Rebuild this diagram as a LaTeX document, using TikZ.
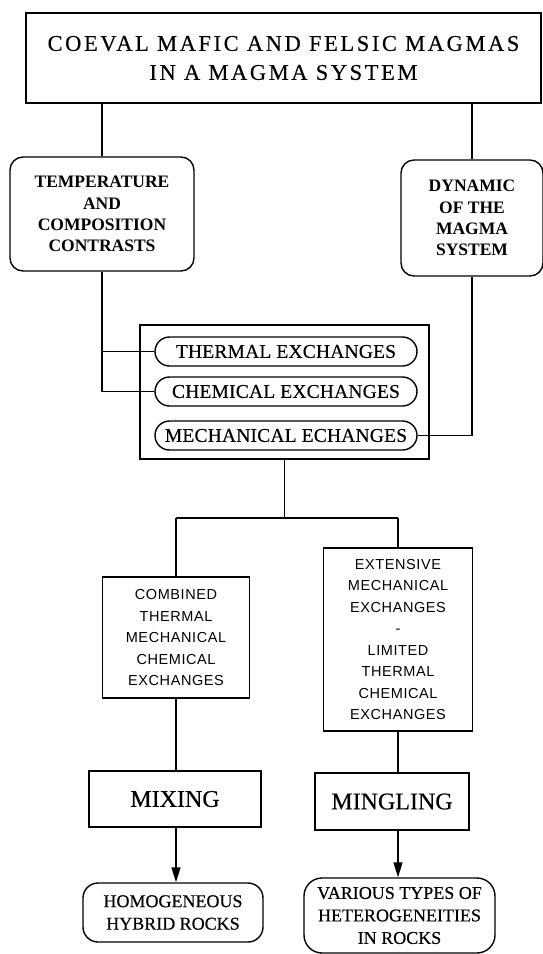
\documentclass[tikz,border=0pt]{standalone}
\usepackage{fontspec}
\setmainfont{Liberation Serif}
\newfontfamily\titlefont[LetterSpace=11.5,FakeBold=0.3]{Liberation Serif}
\newfontfamily\pillfont[LetterSpace=1,FakeBold=0.3]{Liberation Serif}
\newfontfamily\endfont[FakeBold=0.4]{Liberation Serif}
\newfontfamily\letterfont[LetterSpace=4]{Liberation Sans}
\usetikzlibrary{arrows.meta,calc}
\begin{document}
\begin{tikzpicture}[x=1pt,y=-1pt,line width=1.4pt,
  box/.style={draw, rectangle, inner sep=0pt, align=center},
  rbox/.style={box, rounded corners=#1},
  arr/.style={-{Triangle[length=15pt,width=9pt]}},
  boldtxt/.style={font=\fontsize{17.5}{21.2}\selectfont\bfseries},
  pilltxt/.style={font=\fontsize{19.5}{22}\selectfont\pillfont},
  bigtxt/.style={font=\fontsize{24}{28}\selectfont\endfont},
  endtxt/.style={font=\fontsize{18}{22.5}\selectfont\endfont},
  lettxt/.style={font=\fontsize{14.5}{21.5}\selectfont\letterfont}]
\fill[white] (0,0) rectangle (543,954);
\useasboundingbox (0,0) rectangle (543,954);

\node[box, minimum width=515pt, minimum height=90pt,
      font=\fontsize{22.5}{29}\selectfont\titlefont] (title) at (283.5,58)
  {COEVAL MAFIC AND FELSIC MAGMAS\\IN A MAGMA SYSTEM};

\node[rbox=13pt, boldtxt, minimum width=184pt, minimum height=114pt] (temp) at (102,214)
  {TEMPERATURE\\AND\\COMPOSITION\\CONTRASTS};
\node[rbox=13pt, boldtxt, minimum width=142pt, minimum height=116pt] (dyn) at (472,218)
  {DYNAMIC\\OF THE\\MAGMA\\SYSTEM};

\node[box, minimum width=289pt, minimum height=134pt] (outer) at (284.5,392) {};
\node[rbox=14.5pt, pilltxt, minimum width=262pt, minimum height=29pt] (therm) at (286,351.5)
  {THERMAL EXCHANGES};
\node[rbox=14.5pt, pilltxt, minimum width=262pt, minimum height=29pt] (chem) at (286,391.5)
  {CHEMICAL EXCHANGES};
\node[rbox=14.5pt, pilltxt, minimum width=262pt, minimum height=29pt] (mech) at (286,435.5)
  {MECHANICAL ECHANGES};

\node[box, lettxt, minimum width=147pt, minimum height=121pt] (comb) at (176,637.5)
  {COMBINED\\THERMAL\\MECHANICAL\\CHEMICAL\\EXCHANGES};
\node[box, lettxt, minimum width=149pt, minimum height=183pt] (ext) at (398,639.5)
  {EXTENSIVE\\MECHANICAL\\EXCHANGES\\-\\LIMITED\\THERMAL\\CHEMICAL\\EXCHANGES};

\node[box, bigtxt, minimum width=172pt, minimum height=56pt] (mix) at (175,799) {MIXING};
\node[box, bigtxt, minimum width=154pt, minimum height=57pt] (ming) at (392,801.5) {MINGLING};

\node[rbox=15pt, endtxt, minimum width=180pt, minimum height=59pt] (homog) at (173,912.5)
  {HOMOGENEOUS\\HYBRID ROCKS};
\node[rbox=18pt, endtxt, minimum width=191pt, minimum height=75pt] (var) at (399.5,915.5)
  {VARIOUS TYPES OF\\HETEROGENEITIES\\IN ROCKS};

\coordinate (split) at (284.5,518);

\draw (title.south -| temp.north) -- (temp.north);
\draw (title.south -| dyn.north) -- (dyn.north);
\draw (temp.south) -- (temp.south |- chem.west) -- (chem.west);
\draw (temp.south |- therm.west) -- (therm.west);
\draw (mech.east) -- (mech.east -| dyn.south) -- (dyn.south);
\draw (outer.south) -- (split);
\draw (split -| comb.north) -- (split -| ext.north);
\draw (split -| comb.north) -- (comb.north);
\draw (split -| ext.north) -- (ext.north);
\draw (comb.south) -- (comb.south |- mix.north);
\draw[arr] (mix.south -| comb.south) -- (comb.south |- homog.north);
\draw (ext.south) -- (ext.south |- ming.north);
\draw[arr] (ext.south |- ming.south) -- (ext.south |- var.north);
\end{tikzpicture}
\end{document}
